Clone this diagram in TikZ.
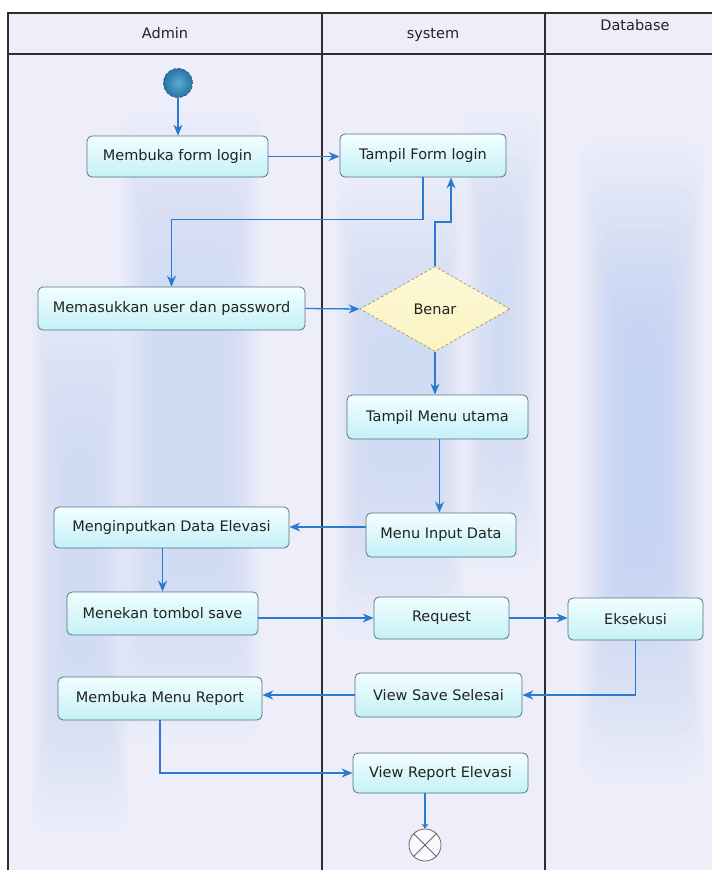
\documentclass[tikz,border=0pt]{standalone}
\usepackage{fontspec}
\setmainfont{DejaVu Sans}
\usetikzlibrary{shapes.geometric,arrows.meta,calc}
\definecolor{lanebg}{HTML}{EEEEFA}
\definecolor{laneblue}{HTML}{C4D4F4}
\definecolor{framecol}{HTML}{2E2E2E}
\definecolor{boxborder}{HTML}{56747E}
\definecolor{boxtop}{HTML}{F2FEFF}
\definecolor{boxbot}{HTML}{C4F1F7}
\definecolor{flow}{HTML}{2A7AD0}
\definecolor{txt}{HTML}{222222}
\definecolor{diafill}{HTML}{FBF3C0}
\definecolor{diaborder}{HTML}{B0A268}
\tikzset{
  lbl/.style={font=\fontsize{14.5}{17}\selectfont, text=txt},
  actbox/.style={lbl, draw=boxborder, line width=0.8pt, rounded corners=5pt,
    top color=boxtop, bottom color=boxbot, inner sep=0pt},
  flowline/.style={draw=flow, line width=1.3pt, -{Stealth[length=11pt,width=9pt]}},
  flowplain/.style={draw=flow, line width=1.3pt},
  lanefr/.style={draw=framecol, line width=1.3pt},
  glowpart/.style={fill=laneblue, fill opacity=0.075, rounded corners=20pt}
}
\newcommand{\softglow}[4]{%
  \foreach \k in {0,...,11}{%
    \fill[glowpart] ({#1+\k*3},{#2+\k*15}) rectangle ({#3-\k*3},{#4-\k*15});
  }}
\begin{document}
\begin{tikzpicture}[x=1pt,y=-1pt]
\useasboundingbox (0,0) rectangle (712,870);
% lanes background
\fill[lanebg] (8,13) rectangle (712,870);
\softglow{120}{110}{260}{740}
\softglow{30}{280}{130}{830}
\softglow{335}{170}{465}{640}
\softglow{462}{110}{540}{570}
\softglow{580}{140}{705}{780}
\softglow{600}{230}{680}{660}
\fill[lanebg] (8,13) rectangle (712,54);
% frame
\draw[lanefr] (712,13) -- (8,13) -- (8,870);
\draw[lanefr] (8,54) -- (712,54);
\draw[lanefr] (322,13) -- (322,870);
\draw[lanefr] (545,13) -- (545,870);
% headers
\node[lbl] (hAdmin) at (165,33) {Admin};
\node[lbl] (hSystem) at (433,35) {system};
\node[lbl] (hDb) at (635,25) {Database};
% start / end
\node[circle, minimum size=29pt, inner sep=0pt, draw={rgb,255:red,40;green,80;blue,110}, densely dashed, line width=0.6pt,
  inner color={rgb,255:red,92;green,170;blue,214}, outer color={rgb,255:red,38;green,116;blue,160}] (start) at (178,83) {};
\node[circle, minimum size=32pt, inner sep=0pt, draw=black!60, line width=0.8pt, fill=white!70!lanebg] (end) at (425,845) {};
\draw[black!60, line width=0.8pt] (end.45) -- (end.225) (end.135) -- (end.-45);
% activities
\node[actbox, minimum width=181pt, minimum height=41pt] (n1) at (177.5,156.5) {Membuka form login};
\node[actbox, minimum width=166pt, minimum height=43pt] (n2) at (423,155.5) {Tampil Form login};
\node[actbox, minimum width=267pt, minimum height=43pt] (n3) at (171.5,308.5) {Memasukkan user dan password};
\node[diamond, lbl, minimum width=150pt, minimum height=85pt, aspect=1.76, inner sep=0pt,
  draw=diaborder, densely dashed, line width=0.8pt, top color=diafill!60!white, bottom color=diafill] (dia) at (435,309) {Benar};
\node[actbox, minimum width=181pt, minimum height=44pt] (n4) at (437.5,417) {Tampil Menu utama};
\node[actbox, minimum width=150pt, minimum height=44pt] (n5) at (441,535) {Menu Input Data};
\node[actbox, minimum width=235pt, minimum height=41pt] (n6) at (171.5,527.5) {Menginputkan Data Elevasi};
\node[actbox, minimum width=191pt, minimum height=43pt] (n7) at (162.5,613.5) {Menekan tombol save};
\node[actbox, minimum width=135pt, minimum height=42pt] (n8) at (441.5,618) {Request};
\node[actbox, minimum width=135pt, minimum height=42pt] (n9) at (635.5,619) {Eksekusi};
\node[actbox, minimum width=167pt, minimum height=44pt] (n10) at (438.5,695) {View Save Selesai};
\node[actbox, minimum width=204pt, minimum height=43pt] (n11) at (160,698.5) {Membuka Menu Report};
\node[actbox, minimum width=175pt, minimum height=40pt] (n12) at (440.5,773) {View Report Elevasi};
% connectors
\draw[flowline] (start.south) -- (start.south |- n1.north);
\draw[flowline] (n1.east) -- (n1.east -| n2.west);
\draw[flowline] (n2.south) -- ++(0,42) -| (n3.north);
\draw[flowline] (dia.north) -- ++(0,-44) -| ([xshift=28pt]n2.south);
\draw[flowline] (n3.east) -- (dia.west);
\draw[flowline] (dia.south) -- (dia.south |- n4.north);
\draw[flowline] ([xshift=2pt]n4.south) -- ([xshift=2pt]n4.south |- n5.north);
\draw[flowline] ([yshift=8pt]n5.west) -- ([yshift=8pt]n5.west -| n6.east);
\draw[flowline] (n6.south -| n7.north) -- (n7.north);
\draw[flowline] (n7.east |- n8.west) -- (n8.west);
\draw[flowline] (n8.east) -- (n8.east -| n9.west);
\draw[flowline] (n9.south) |- (n10.east);
\draw[flowline] (n10.west) -- (n10.west -| n11.east);
\draw[flowline] (n11.south) |- (n12.west);
\draw[flowplain, -{Stealth[length=5pt,width=7pt]}] (end.north |- n12.south) -- (end.north);
\end{tikzpicture}
\end{document}
